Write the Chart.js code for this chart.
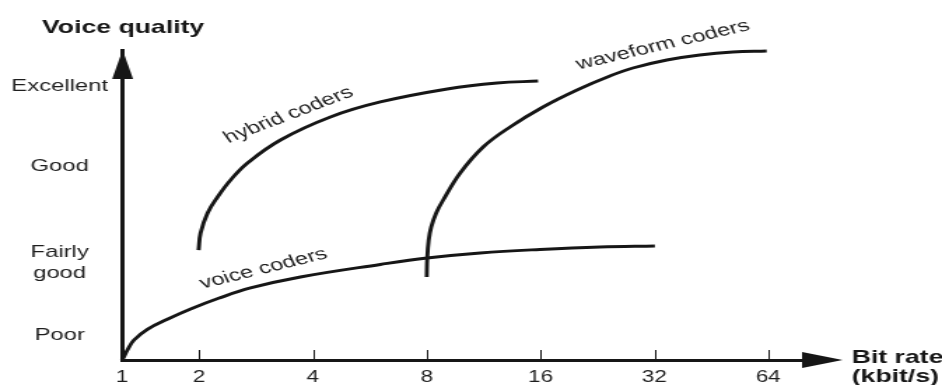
<!DOCTYPE html>
<html>
<head>
<meta charset="utf-8">
<script src="https://cdn.jsdelivr.net/npm/chart.js@4"></script>
<style>
  html, body { margin: 0; padding: 0; background: #fff; overflow: hidden; }
  /* the original figure is a horizontally stretched scan, so stretch the canvas the same way */
  #wrap { width: 673px; height: 385px; transform: scaleX(1.3997); transform-origin: 0 0; }
</style>
</head>
<body>
<div id="wrap"><canvas id="chart"></canvas></div>
<script>
// bit rate (kbit/s, log axis) vs voice quality (0 = origin, 100 = top of the axis)
const rateTicks = [1, 2, 4, 8, 16, 32, 64];
const rateLabels = ["1", "2", "4", "8", "16", "32", "64"];
const qualityTicks = [8.1, 31.3, 62.6, 88.4];
const qualityLabels = ["Poor", ["Fairly", "good"], "Good", "Excellent"];

const voiceRate = [1.25, 1.266, 1.2925, 1.3455, 1.4596, 1.6485, 1.8993, 2.252, 2.7356, 3.7076, 6.03, 8.02, 11.08, 15.95, 22.97, 32.1];
const voiceQuality = [0, 1.06, 3.23, 6.45, 9.9, 13.13, 16.45, 19.9, 23.23, 26.77, 30.81, 32.9, 34.52, 35.65, 36.45, 36.77];

const hybridRate = [1.994, 2.018, 2.106, 2.238, 2.423, 2.686, 3.283, 4.45, 6.03, 9.063, 12.28, 15.76];
const hybridQuality = [35.48, 40.97, 47.42, 52.58, 58.06, 63.55, 70.97, 78.39, 83.23, 87.42, 89.35, 90.0];

const waveformRate = [8.0, 8.024, 8.097, 8.221, 8.475, 8.844, 9.808, 11.28, 13.29, 16.24, 19.98, 24.41, 28.08, 34.53, 42.19, 51.57, 63.41];
const waveformQuality = [26.77, 32.9, 38.71, 42.9, 47.42, 51.61, 60.32, 68.71, 75.16, 81.61, 87.1, 91.61, 94.19, 96.77, 98.39, 99.35, 99.68];

const curveNames = ["voice coders", "hybrid coders", "waveform coders"];

const ink = "#161616";
const textColor = "#1e1e1e";
const fontFamily = "'Liberation Sans', Arial, Helvetica, sans-serif";

const toPoints = (xs, ys) => xs.map((v, i) => ({ x: v, y: ys[i] }));

// where the curve names sit (in data units) and how much they tilt
const curveNotes = [
  { rate: 2.96, quality: 29.4, angle: -19 },
  { rate: 3.45, quality: 79.0, angle: -28 },
  { rate: 33.7, quality: 101.6, angle: -18 },
];

const axisDecor = {
  id: "axisDecor",
  afterDraw(chart) {
    const { ctx, chartArea: a } = chart;
    const x = chart.scales.x;
    const y = chart.scales.y;
    ctx.save();
    ctx.fillStyle = ink;
    ctx.strokeStyle = ink;

    // arrow heads
    ctx.beginPath();
    ctx.moveTo(a.left + 0.5, a.top);
    ctx.lineTo(a.left - 7, a.top + 29);
    ctx.lineTo(a.left + 8, a.top + 29);
    ctx.closePath();
    ctx.fill();

    ctx.beginPath();
    ctx.moveTo(a.right + 27, a.bottom);
    ctx.lineTo(a.right - 2, a.bottom - 8);
    ctx.lineTo(a.right - 2, a.bottom + 8);
    ctx.closePath();
    ctx.fill();

    // tick marks point into the plot
    ctx.lineWidth = 1;
    rateTicks.slice(1).forEach((v) => {
      const px = Math.round(x.getPixelForValue(v)) + 0.5;
      ctx.beginPath();
      ctx.moveTo(px, a.bottom);
      ctx.lineTo(px, a.bottom - 10);
      ctx.stroke();
    });

    // curve names
    ctx.fillStyle = textColor;
    ctx.font = "17px " + fontFamily;
    ctx.textAlign = "center";
    ctx.textBaseline = "middle";
    curveNotes.forEach((n, i) => {
      ctx.save();
      ctx.translate(x.getPixelForValue(n.rate), y.getPixelForValue(n.quality));
      ctx.rotate((n.angle * Math.PI) / 180);
      ctx.fillText(curveNames[i], 0, 0);
      ctx.restore();
    });

    // axis titles
    ctx.fillStyle = ink;
    ctx.font = "bold 19px " + fontFamily;
    ctx.textAlign = "left";
    ctx.textBaseline = "alphabetic";
    ctx.fillText("Voice quality", a.left - 57, 33);
    ctx.fillText("Bit rate", a.right + 33.5, 363);
    ctx.fillText("(kbit/s)", a.right + 33.5, 382);
    ctx.restore();
  },
};

new Chart(document.getElementById("chart"), {
  type: "line",
  data: {
    datasets: [
      { label: curveNames[0], data: toPoints(voiceRate, voiceQuality) },
      { label: curveNames[1], data: toPoints(hybridRate, hybridQuality) },
      { label: curveNames[2], data: toPoints(waveformRate, waveformQuality) },
    ],
  },
  options: {
    responsive: true,
    maintainAspectRatio: false,
    animation: false,
    events: [],
    layout: { padding: { top: 50, right: 98, bottom: 0, left: 0 } },
    plugins: {
      legend: { display: false },
      tooltip: { enabled: false },
    },
    elements: {
      point: { radius: 0 },
      line: {
        borderWidth: 2.9,
        borderColor: ink,
        tension: 0.4,
        fill: false,
        borderCapStyle: "butt",
      },
    },
    datasets: { line: { clip: false } },
    scales: {
      x: {
        type: "logarithmic",
        min: 1.25,
        max: 80,
        bounds: "data",
        grid: { display: false, drawTicks: false },
        border: { display: true, color: ink, width: 3 },
        ticks: {
          autoSkip: false,
          maxRotation: 0,
          padding: 8,
          color: textColor,
          font: { family: fontFamily, size: 16 },
          callback: (v, i) => rateLabels[i],
        },
        afterBuildTicks: (s) => {
          s.ticks = rateTicks.map((v) => ({ value: Math.max(v, s.min) }));
        },
        afterFit: (s) => {
          s.height = 25;
        },
      },
      y: {
        type: "linear",
        min: 0,
        max: 100,
        grid: { display: false, drawTicks: false },
        border: { display: true, color: ink, width: 3 },
        ticks: {
          crossAlign: "center",
          padding: 10,
          color: textColor,
          font: { family: fontFamily, size: 17, lineHeight: 1.2 },
          callback: (v, i) => qualityLabels[i],
        },
        afterBuildTicks: (s) => {
          s.ticks = qualityTicks.map((v) => ({ value: v }));
        },
        afterFit: (s) => {
          s.width = 87.1;
        },
      },
    },
  },
  plugins: [axisDecor],
});
</script>
</body>
</html>
